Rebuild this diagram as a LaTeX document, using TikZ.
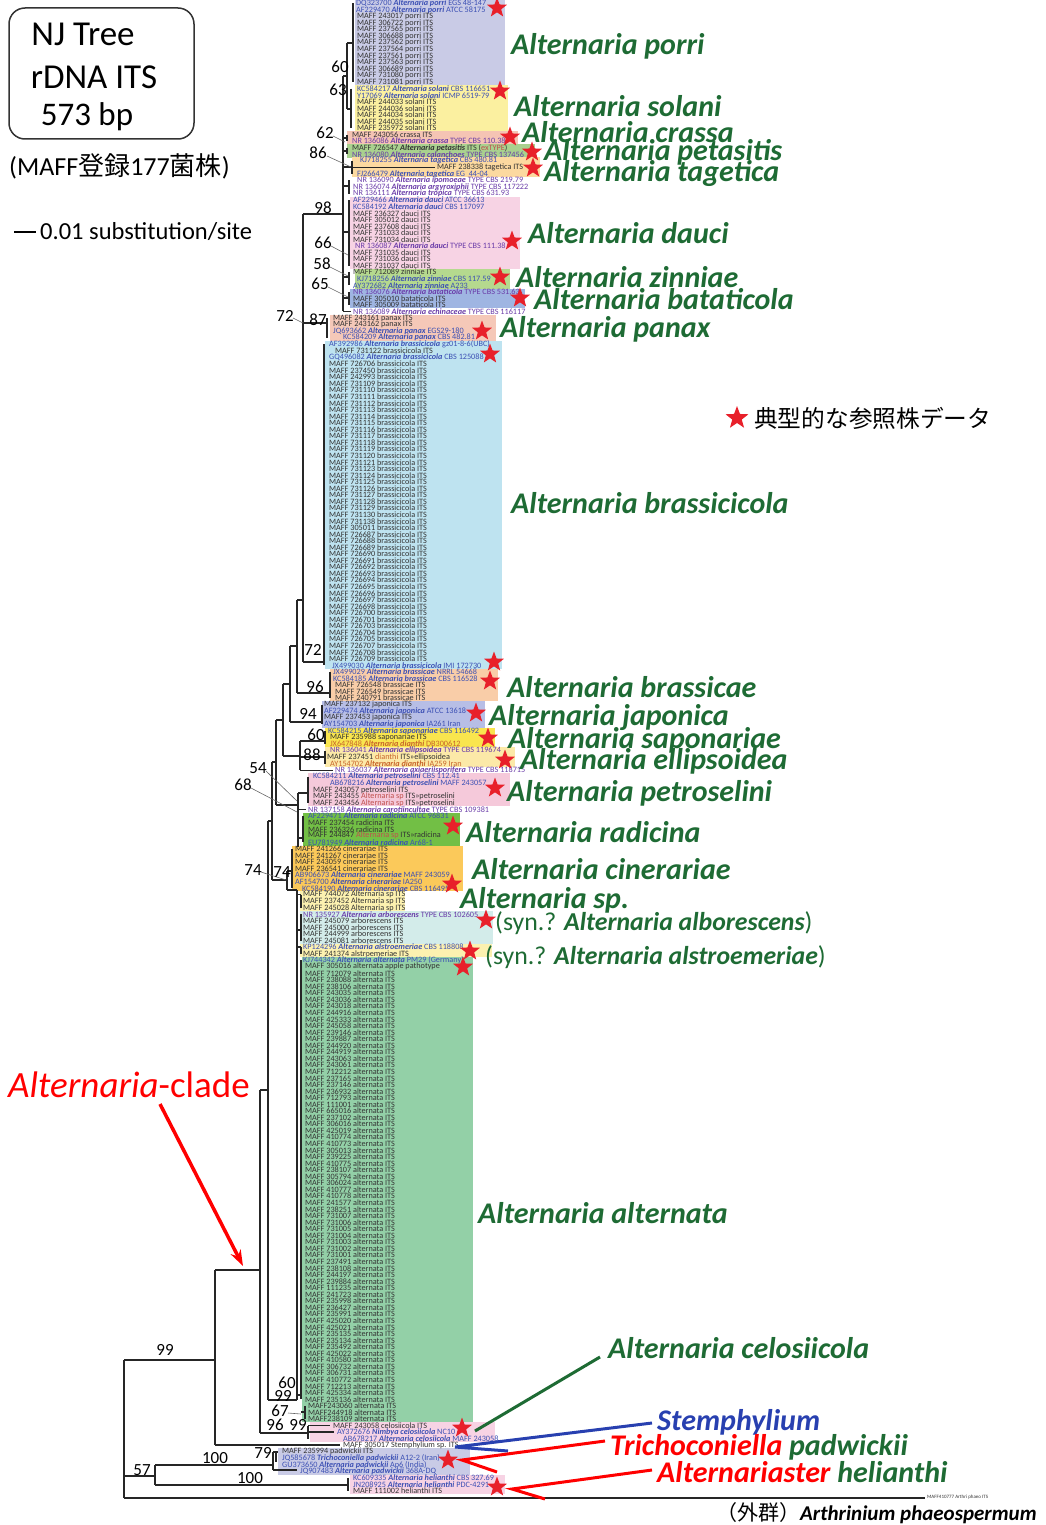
\documentclass[tikz,border=0pt]{standalone}
\usepackage{fontspec}
\setmainfont{Carlito}
\newfontfamily\cjk{Noto Sans CJK JP}
\usetikzlibrary{shapes.geometric,arrows.meta}
\definecolor{sgreen}{HTML}{1E6B34}
\definecolor{refblue}{HTML}{3C50B4}
\definecolor{refpurple}{HTML}{6A3CA8}
\definecolor{orgtxt}{HTML}{C8642A}
\definecolor{sptxt}{HTML}{C0504D}
\definecolor{bxporri}{HTML}{C9CBE6}
\definecolor{bxsolani}{HTML}{FBF0A0}
\definecolor{bxcrassa}{HTML}{F5C4B4}
\definecolor{bxpetas}{HTML}{A9D18E}
\definecolor{bxtaget}{HTML}{FCD9A0}
\definecolor{bxdauci}{HTML}{F7D3E4}
\definecolor{bxzinn}{HTML}{B5D98E}
\definecolor{bxbatat}{HTML}{9FB5E2}
\definecolor{bxpanax}{HTML}{F5C8B8}
\definecolor{bxbrcola}{HTML}{BEE3F0}
\definecolor{bxbrcae}{HTML}{F9CDA8}
\definecolor{bxjapon}{HTML}{B7BEE6}
\definecolor{bxsapon}{HTML}{F9E54E}
\definecolor{bxellip}{HTML}{FCE9A8}
\definecolor{bxpetro}{HTML}{F5C9DA}
\definecolor{bxradic}{HTML}{72BF45}
\definecolor{bxciner}{HTML}{FBC95A}
\definecolor{bxsp}{HTML}{FCF1B0}
\definecolor{bxarbor}{HTML}{D3ECEA}
\definecolor{bxaltern}{HTML}{93D0A7}
\definecolor{starred}{HTML}{E8202A}
\definecolor{stemblue}{HTML}{2840B0}
\newcommand\rv[1]{(3.5+(#1-1)*6.553)}
\newcommand\ry[1]{{\rv{#1}}}
\newcommand\Lf[3]{\node[leaf] at (#2,\ry{#1}) {#3};}
\newcommand\bx[5]{\fill[#1] (#2,{\rv{#4}-3.3}) rectangle (#3,{\rv{#5}+3.3});}
\newcommand\ri[1]{\textbf{\textit{#1}}}
\begin{document}
\begin{tikzpicture}[x=1pt,y=-1pt,
  leaf/.style={anchor=west,inner sep=0pt,font=\fontsize{8.2}{8.2}\selectfont,text=black!80},
  biglab/.style={anchor=west,inner sep=0pt,font=\fontsize{30}{30}\selectfont\bfseries\itshape,text=sgreen},
  boot/.style={inner sep=0pt,font=\fontsize{17}{17}\selectfont},
  tree/.style={line width=1.4pt,black!85},
  lead/.style={line width=0.6pt,black!60},
  rstar/.style={star,star points=5,star point ratio=2.4,fill=starred,draw=none,minimum size=21pt,inner sep=0pt}]
\useasboundingbox (0,0) rectangle (1045,1525);
% ---------------- boxes
\bx{bxporri}{355}{505}{1}{13}
\bx{bxsolani}{355}{508}{14}{20}
\bx{bxcrassa}{347}{518}{21}{22}
\bx{bxpetas}{347}{535}{23}{24}
\bx{bxtaget}{352}{540}{25}{27}
\bx{bxdauci}{350}{520}{31}{41}
\bx{bxzinn}{355}{510}{42}{44}
\bx{bxbatat}{350}{525}{45}{47}
\bx{bxpanax}{330}{496}{49}{52}
\bx{bxbrcola}{325}{502}{53}{102}
\bx{bxbrcae}{330}{498}{103}{107}
\bx{bxjapon}{322}{485}{108}{111}
\bx{bxsapon}{325}{495}{112}{114}
\bx{bxellip}{325}{515}{115}{117}
\bx{bxpetro}{308}{510}{119}{123}
\bx{bxradic}{303}{460}{125}{129}
\bx{bxciner}{292}{463}{130}{136}
\bx{bxsp}{300}{405}{137}{139}
\bx{bxarbor}{300}{493}{140}{144}
\bx{bxsp}{300}{492}{145}{146}
\bx{bxaltern}{302}{473}{147}{217}
\bx{bxdauci}{310}{495}{218}{220}
\bx{bxporri}{278}{470}{222}{225}
\bx{bxdauci}{350}{505}{226}{228}
% ---------------- leaf labels
\Lf{1}{356}{{\color{refblue}DQ323700 \ri{Alternaria porri} EGS 48-147}}
\Lf{2}{356}{{\color{refblue}AF229470 \ri{Alternaria porri} ATCC 58175}}
\foreach \n [count=\i from 3] in {243017,306722,237565,306688,237562,237564,237561,237563,306689,731080,731081}
  {\Lf{\i}{357}{MAFF \n\ porri ITS}}
\Lf{14}{357}{{\color{refblue}KC584217 \ri{Alternaria solani} CBS 116651}}
\Lf{15}{357}{{\color{refblue}Y17069 \ri{Alternaria solani} ICMP 6519-79}}
\foreach \n [count=\i from 16] in {244033,244036,244034,244035,235972}
  {\Lf{\i}{357}{MAFF \n\ solani ITS}}
\Lf{21}{352}{MAFF 243056 crassa ITS}
\Lf{22}{352}{{\color{refpurple}NR 136086 \ri{Alternaria crassa} TYPE CBS 110.38}}
\Lf{23}{352}{MAFF 726547 \ri{Alternaria petasitis} ITS ({\color{sptxt}exTYPE})}
\Lf{24}{352}{{\color{refpurple}NR 136080 \ri{Alternaria calanchoes} TYPE CBS 137456}}
\Lf{25}{360}{{\color{refblue}KJ718255 \ri{Alternaria tagetica} CBS 480.81}}
\Lf{26}{437}{MAFF 238338 tagetica ITS}
\Lf{27}{357}{{\color{refblue}FJ266479 \ri{Alternaria tagetica} EG\ \ 44-04}}
\Lf{28}{357}{{\color{refpurple}NR 136090 \ri{Alternaria ipomoeae} TYPE CBS 219.79}}
\Lf{29}{353}{{\color{refpurple}NR 136074 \ri{Alternaria argyroxiphii} TYPE CBS 117222}}
\Lf{30}{353}{{\color{refpurple}NR 136111 \ri{Alternaria tropica} TYPE CBS 631.93}}
\Lf{31}{353}{{\color{refblue}AF229466 \ri{Alternaria dauci} ATCC 36613}}
\Lf{32}{353}{{\color{refblue}KC584192 \ri{Alternaria dauci} CBS 117097}}
\foreach \n [count=\i from 33] in {236327,305012,237608,731033,731034}
  {\Lf{\i}{353}{MAFF \n\ dauci ITS}}
\Lf{38}{355}{{\color{refpurple}NR 136087 \ri{Alternaria dauci} TYPE CBS 111.38}}
\foreach \n [count=\i from 39] in {731035,731036,731037}
  {\Lf{\i}{353}{MAFF \n\ dauci ITS}}
\Lf{42}{353}{MAFF 712089 zinniae ITS}
\Lf{43}{357}{{\color{refblue}KJ718256 \ri{Alternaria zinniae} CBS 117.59}}
\Lf{44}{353}{{\color{refblue}AY372682 \ri{Alternaria zinniae} A233}}
\Lf{45}{353}{{\color{refpurple}NR 136076 \ri{Alternaria bataticola} TYPE CBS 531.63}}
\Lf{46}{353}{MAFF 305010 bataticola ITS}
\Lf{47}{353}{MAFF 305009 bataticola ITS}
\Lf{48}{353}{{\color{refpurple}NR 136089 \ri{Alternaria echinaceae} TYPE CBS 116117}}
\Lf{49}{333}{MAFF 243161 panax ITS}
\Lf{50}{333}{MAFF 243162 panax ITS}
\Lf{51}{333}{{\color{refblue}JQ693662 \ri{Alternaria panax} EGS29-180}}
\Lf{52}{343}{{\color{refblue}KC584209 \ri{Alternaria panax} CBS 482.81}}
\Lf{53}{329}{{\color{refblue}AF392986 \ri{Alternaria brassicicola} gz01-8-6(UBC)}}
\Lf{54}{335}{MAFF 731122 brassicicola ITS}
\Lf{55}{329}{{\color{refblue}GQ496082 \ri{Alternaria brassicicola} CBS 125088}}
\foreach \n [count=\i from 56] in {726706,237450,242993,731109,731110,731111,731112,731113,731114,731115,731116,731117,731118,731119,731120,731121,731123,731124,731125,731126,731127,731128,731129,731130,731138,305011,726687,726688,726689,726690,726691,726692,726693,726694,726695,726696,726697,726698,726700,726701,726703,726704,726705,726707,726708,726709}
  {\Lf{\i}{329}{MAFF \n\ brassicicola ITS}}
\Lf{102}{332}{{\color{refblue}JX499030 \ri{Alternaria brassicicola} IMI 172730}}
\Lf{103}{333}{{\color{refblue}JX499029 \ri{Alternaria brassicae} NRRL 54668}}
\Lf{104}{333}{{\color{refblue}KC584185 \ri{Alternaria brassicae} CBS 116528}}
\foreach \n [count=\i from 105] in {726548,726549,240791}
  {\Lf{\i}{335}{MAFF \n\ brassicae ITS}}
\Lf{108}{324}{MAFF 237132 japonica ITS}
\Lf{109}{324}{{\color{refblue}AF229474 \ri{Alternaria japonica} ATCC 13618}}
\Lf{110}{324}{MAFF 237453 japonica ITS}
\Lf{111}{324}{{\color{refblue}AY154703 \ri{Alternaria japonica} IA261 Iran}}
\Lf{112}{328}{{\color{refblue}KC584215 \ri{Alternaria saponariae} CBS 116492}}
\Lf{113}{330}{MAFF 235988 saponariae ITS}
\Lf{114}{330}{{\color{orgtxt}JX647848 \ri{Alternaria dianthi} DB300612}}
\Lf{115}{330}{{\color{refpurple}NR 136041 \ri{Alternaria ellipsoidea} TYPE CBS 119674}}
\Lf{116}{327}{MAFF 237451 {\color{orgtxt}dianthi} ITS>>ellipsoidea}
\Lf{117}{330}{{\color{orgtxt}AY154702 \ri{Alternaria dianthi} IA259 Iran}}
\Lf{118}{335}{{\color{refpurple}NR 136037 \ri{Alternaria axiaeriisporifera} TYPE CBS 118715}}
\Lf{119}{313}{{\color{refblue}KC584211 \ri{Alternaria petroselini} CBS 112.41}}
\Lf{120}{330}{{\color{refblue}AB678216 \ri{Alternaria petroselini} MAFF 243057}}
\Lf{121}{313}{MAFF 243057 petroselini ITS}
\Lf{122}{313}{MAFF 243455 {\color{sptxt}Alternaria sp} ITS>>petroselini}
\Lf{123}{313}{MAFF 243456 {\color{sptxt}Alternaria sp} ITS>>petroselini}
\Lf{124}{308}{{\color{refpurple}NR 137158 \ri{Alternaria carotiincultae} TYPE CBS 109381}}
\Lf{125}{308}{{\color{refblue}AF229471 \ri{Alternaria radicina} ATCC 96831}}
\Lf{126}{308}{MAFF 237454 radicina ITS}
\Lf{127}{308}{MAFF 236326 radicina ITS}
\Lf{128}{308}{MAFF 244847 {\color{sptxt}Alternaria sp} ITS>>radicina}
\Lf{129}{308}{{\color{refblue}EU781949 \ri{Alternaria radicina} Ar68-1}}
\foreach \n [count=\i from 130] in {241266,241267,243059,236541}
  {\Lf{\i}{295}{MAFF \n\ cinerariae ITS}}
\Lf{134}{295}{{\color{refblue}AB906673 \ri{Alternaria cinerariae} MAFF 243059}}
\Lf{135}{295}{{\color{refblue}AF154700 \ri{Alternaria cinerariae} IA250}}
\Lf{136}{302}{{\color{refblue}KC584190 \ri{Alternaria cinerariae} CBS 116495}}
\foreach \n [count=\i from 137] in {744072,237452,245028}
  {\Lf{\i}{303}{MAFF \n\ Alternaria sp ITS}}
\Lf{140}{303}{{\color{refpurple}NR 135927 \ri{Alternaria arborescens} TYPE CBS 102605}}
\foreach \n [count=\i from 141] in {245079,245000,244999,245081}
  {\Lf{\i}{303}{MAFF \n\ arborescens ITS}}
\Lf{145}{303}{{\color{refblue}KP124296 \ri{Alternaria alstroemeriae} CBS 118808}}
\Lf{146}{303}{MAFF 241374 alstroemeriae ITS}
\Lf{147}{303}{{\color{refblue}KJ744342 \ri{Alternaria alternata} PM29 (Germany)}}
\Lf{148}{305}{MAFF 305016 alternata apple pathotype}
\foreach \n [count=\i from 149] in {712079,238088,238106,243035,243036,243018,244916,425333,245058,239146,239887,244920,244919,243063,243061,712212,237165,237146,236932,712793,111001,665016,237102,306016,425019,410774,410773,305013,239225,410775,238107,305794,306024,410777,410778,241577,238251,731007,731006,731005,731004,731003,731002,731001,237491,238108,244197,239884,111235,241723,235998,236427,235991,425020,425021,235135,235134,235492,425022,410580,306732,306731,410772,712213,425334,235136}
  {\Lf{\i}{305}{MAFF \n\ alternata ITS}}
\foreach \n [count=\i from 215] in {243060,244918,238109}
  {\Lf{\i}{308}{MAFF\n\ alternata ITS}}
\Lf{218}{333}{MAFF 243058 celosiicola ITS}
\Lf{219}{337}{{\color{refblue}AY372676 \ri{Nimbya celosiicola} NC10}}
\Lf{220}{343}{{\color{refblue}AB678217 \ri{Alternaria celosiicola} MAFF 243058}}
\Lf{221}{343}{MAFF 305017 Stemphylium sp. ITS}
\Lf{222}{282}{MAFF 235994 padwickii ITS}
\Lf{223}{282}{{\color{refblue}JQ585678 \ri{Trichoconiella padwickii} A12-2 (Iran)}}
\Lf{224}{282}{{\color{refblue}GU373650 \ri{Alternaria padwickii} Ap6 (India)}}
\Lf{225}{300}{{\color{refblue}JQ907483 \ri{Alternaria padwickii} 368A-DQ}}
\Lf{226}{353}{{\color{refblue}KC609335 \ri{Alternaria helianthi} CBS 327.69}}
\Lf{227}{353}{{\color{refblue}JN208925 \ri{Alternaria helianthi} PDC-4291}}
\Lf{228}{353}{MAFF 111002 helianthi ITS}
\node[leaf,font=\fontsize{5}{5}\selectfont] at (927,1497) {MAFF410777 Arthri phaeo ITS};
% ---------------- tree
% top clade
\draw[tree] (353,\ry1)--(353,\ry{13});
\draw[tree] (351,\ry{14})--(351,\ry{20});
\draw[tree] (347,43)--(347,109) (347,43)--(353,43) (347,109)--(351,109);
\draw[tree] (343,76)--(343,311);
\draw[tree] (343,76)--(347,76);
\draw[tree] (347,\ry{21})--(347,\ry{22}) (343,138)--(347,138);
\draw[tree] (347,\ry{23})--(347,\ry{24}) (343,151)--(347,151);
\draw[tree] (352,\ry{25})--(352,\ry{27}) (352,\ry{26})--(435,\ry{26}) (343,167)--(352,167);
\draw[tree] (349,\ry{28})--(349,\ry{30}) (343,186)--(349,186);
\draw[tree] (349,\ry{31})--(349,\ry{41}) (343,232)--(349,232);
\draw[tree] (349,\ry{42})--(349,\ry{44}) (343,277)--(349,277);
\draw[tree] (349,\ry{45})--(349,\ry{47}) (343,298)--(349,298);
\draw[tree] (343,\ry{48})--(351,\ry{48});
% ladder
\draw[tree] (303,214)--(343,214);
\draw[tree] (303,214)--(303,662);
\draw[tree] (303,323)--(327,323) (327,\ry{49})--(327,\ry{52});
\draw[tree] (303,662)--(324,662) (324,\ry{53})--(324,\ry{102});
\draw[tree] (297,600)--(303,600) (297,600)--(297,693);
\draw[tree] (297,693)--(330,693) (330,\ry{103})--(330,\ry{107});
\draw[tree] (290,646)--(297,646) (290,646)--(290,722);
\draw[tree] (290,722)--(322,722) (322,\ry{108})--(322,\ry{111});
\draw[tree] (283,684)--(290,684) (283,684)--(283,756);
\draw[tree] (283,756)--(300,756) (300,741)--(300,\ry{118});
\draw[tree] (300,741)--(325,741) (325,\ry{112})--(325,\ry{114});
\draw[tree] (300,757)--(325,757);
\draw[tree,line width=2.4pt] (325,\ry{115})--(325,\ry{117});
\draw[tree] (300,\ry{118})--(333,\ry{118});
\draw[tree] (276,720)--(283,720) (276,720)--(276,805);
\draw[tree] (276,805)--(298,805);
\draw[tree,line width=2.6pt] (298,793)--(298,847);
\draw[tree] (298,793)--(308,793) (308,\ry{119})--(308,\ry{123});
\draw[tree] (298,\ry{124})--(306,\ry{124});
\draw[tree] (298,838)--(303,838) (303,\ry{125})--(303,\ry{129});
\draw[tree] (272,762)--(276,762) (272,762)--(272,880);
\draw[tree] (272,880)--(287,880) (287,871)--(287,890);
\draw[tree] (287,871)--(292,871) (292,\ry{130})--(292,\ry{136});
\draw[tree] (287,890)--(297,890);
\draw[tree,line width=2pt] (297,890)--(297,1400);
\draw[tree] (297,\ry{137})--(301,\ry{137}) (301,\ry{137})--(301,\ry{139});
\draw[tree] (297,930)--(301,930) (301,\ry{140})--(301,\ry{144});
\draw[tree] (297,\ry{145})--(301,\ry{145}) (301,\ry{145})--(301,\ry{146});
\draw[tree] (301,\ry{147})--(301,\ry{214});
\draw[tree] (297,1395)--(301,1395);
\draw[tree] (301,1412)--(305,1412) (305,\ry{215})--(305,\ry{217});
\draw[tree] (268,821)--(272,821) (268,821)--(268,1400) (268,1400)--(297,1400);
\draw[tree] (260,1090)--(268,1090) (260,1090)--(260,1433);
\draw[tree] (260,1433)--(308,1433) (308,\ry{218})--(308,\ry{220});
\draw[tree] (308,\ry{218})--(330,\ry{218}) (308,\ry{219})--(334,\ry{219});
% outer
\draw[tree] (124,1360)--(124,1498);
\draw[tree] (124,1360)--(215,1360);
\draw[tree] (215,1270)--(215,\ry{221});
\draw[tree,line width=2.6pt] (215,1270)--(260,1270);
\draw[tree] (215,\ry{221})--(340,\ry{221});
\draw[tree] (124,1476)--(155,1476) (155,1465)--(155,1485);
\draw[tree] (155,1465)--(273,1465) (273,1452)--(273,1470) (273,1452)--(278,1452);
\draw[tree] (276,1452)--(276,1462) (273,1470)--(297,1470);
\draw[tree] (155,1485)--(348,1485) (348,\ry{226})--(348,\ry{228});
\draw[tree] (124,1498)--(925,1498);
% leader lines
\draw[lead] (333,136)--(345,142);
\draw[lead] (327,156)--(351,167);
\draw[lead] (331,246)--(348,255);
\draw[lead] (330,267)--(348,276);
\draw[lead] (328,287)--(348,297);
\draw[lead] (293,318)--(303,323);
\draw[lead] (266,771)--(297,801);
\draw[lead] (251,788)--(297,812);
\draw[lead] (261,872)--(286,880);
\draw[lead] (288,1413)--(301,1414);
% bootstrap
\foreach \t/\x/\y in {60/340/67,63/338/90,62/325/133,86/318/153,98/323/208,66/323/243,58/322/264,65/320/284,72/285/316,87/318/320,72/313/650,96/315/687,94/308/714,60/316/735,88/312/755,54/258/768,68/243/785,74/253/870,74/282/872,60/287/1383,99/283/1396,67/280/1411,96/275/1425,99/298/1425,99/165/1350,79/263/1453,100/215/1458,57/142/1470,100/250/1478}
  \node[boot] at (\x,\y) {\t};
% ---------------- stars
\foreach \x/\y in {497/8,500/91,510/137,532/152,533/168,512/241,500/277,520/298,482/331,490/354,494/662,490/681,476/713,488/738,505/760,495/788,453/826,452/884,486/920,470/951,463/967,462/1428,448/1460,497/1487}
  \node[rstar] at (\x,\y) {};
\node[rstar,minimum size=24pt] at (737,418) {};
% ---------------- species labels
\node[biglab] at (511,46) {Alternaria porri};
\node[biglab] at (514,106) {Alternaria solani};
\node[biglab] at (522,132) {Alternaria crassa};
\node[biglab] at (544,152) {Alternaria petasitis};
\node[biglab] at (544,173) {Alternaria tagetica};
\node[biglab] at (528,233) {Alternaria dauci};
\node[biglab] at (516,277) {Alternaria zinniae};
\node[biglab] at (534,299) {Alternaria bataticola};
\node[biglab] at (500,329) {Alternaria panax};
\node[biglab] at (511,503) {Alternaria brassicicola};
\node[biglab] at (507,687) {Alternaria brassicae};
\node[biglab] at (489,718) {Alternaria japonica};
\node[biglab] at (508,740) {Alternaria saponariae};
\node[biglab] at (520,761) {Alternaria ellipsoidea};
\node[biglab] at (507,793) {Alternaria petroselini};
\node[biglab] at (466,832) {Alternaria radicina};
\node[biglab] at (472,869) {Alternaria cinerariae};
\node[biglab] at (460,900) {Alternaria sp.};
\node[biglab,font=\fontsize{25.8}{25.8}\selectfont] at (495,923) {(syn.? \textbf{\textit{Alternaria alborescens}})};
\node[biglab,font=\fontsize{25.8}{25.8}\selectfont] at (485,957) {(syn.? \textbf{\textit{Alternaria alstroemeriae}})};
\node[biglab] at (478,1213) {Alternaria alternata};
\node[biglab] at (608,1348) {Alternaria celosiicola};
\node[biglab,text=stemblue] at (657,1422) {Stemphylium};
\node[biglab] at (610,1447) {{\color{red}Trichoconiella} padwickii};
\node[biglab] at (657,1472) {{\color{red}Alternariaster} helianthi};
\node[anchor=west,inner sep=0pt,font=\fontsize{21}{21}\selectfont] (og) at (716,1513) {{\cjk （外群）}\textbf{\textit{Arthrinium phaeospermum}}};
% pointers
\draw[sgreen,line width=3pt] (475,1431)--(600,1357);
\draw[stemblue,line width=3pt,line join=miter] (652,1423)--(455,1447)--(508,1451);
\draw[red,line width=3pt] (605,1441)--(462,1460)--(497,1472);
\draw[red,line width=3pt] (652,1470)--(512,1489)--(545,1499);
% ---------------- legend
\draw[line width=1.5pt,rounded corners=16pt,black!80] (9,8) rectangle (194,139);
\node[font=\fontsize{35}{35}\selectfont] at (83,34) {NJ Tree};
\node[font=\fontsize{35}{35}\selectfont] at (94,77) {rDNA ITS};
\node[font=\fontsize{33}{33}\selectfont] at (87,117) {573 bp};
\node[anchor=west,inner sep=0pt,font=\fontsize{26}{26}\selectfont] at (9,166) {(MAFF{\cjk 登録}177{\cjk 菌株})};
\draw[line width=1.5pt] (14,232)--(36,232);
\node[anchor=west,inner sep=0pt,font=\fontsize{24.5}{24.5}\selectfont] at (40,232) {0.01 substitution/site};
\node[anchor=west,inner sep=0pt,font=\fontsize{23.7}{23.7}\selectfont\cjk] at (754,418) {典型的な参照株データ};
\node[anchor=west,inner sep=0pt,text=red,font=\fontsize{37}{37}\selectfont] at (8,1085) {\textit{Alternaria}-clade};
\draw[red,line width=3.5pt,-{Stealth[length=16pt,width=11pt]}] (160,1104)--(243,1266);
\end{tikzpicture}
\end{document}
